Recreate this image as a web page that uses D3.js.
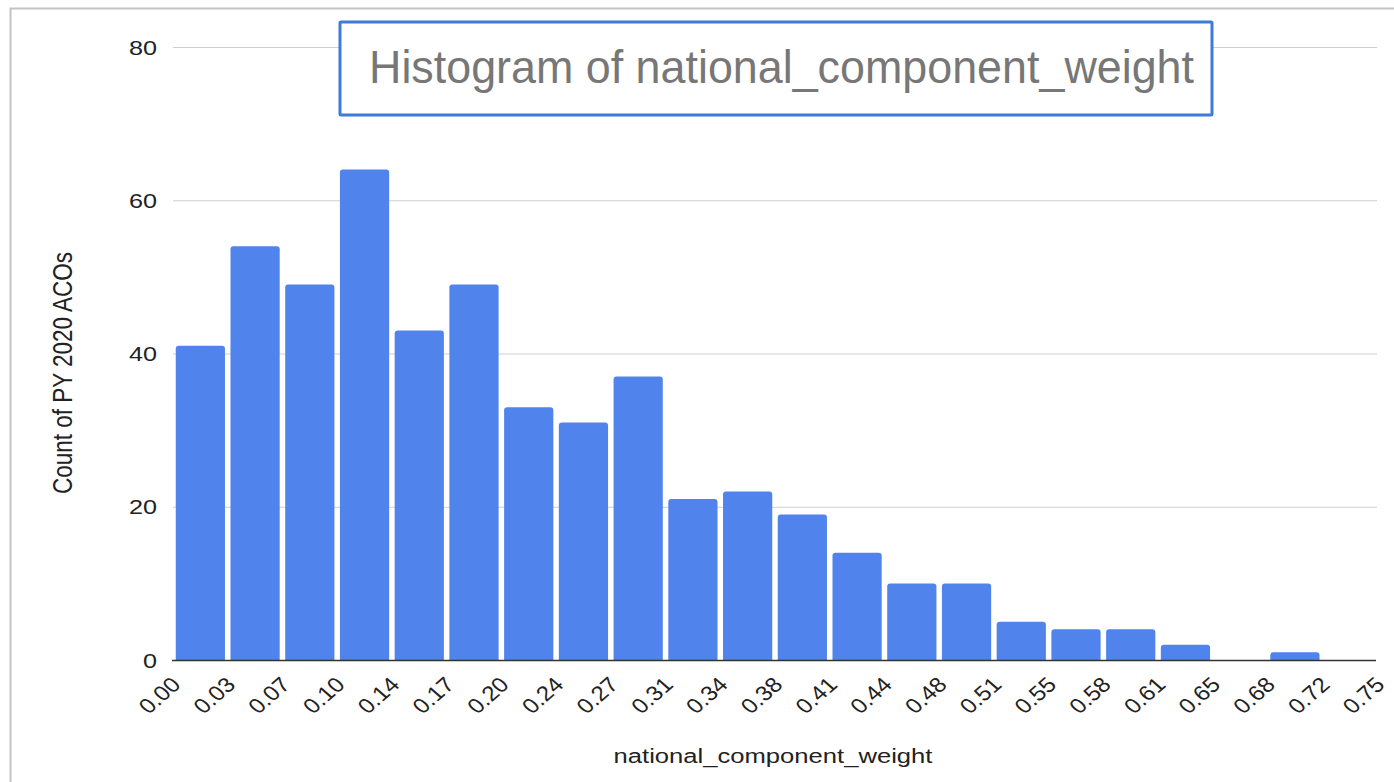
<!DOCTYPE html>
<html>
<head>
<meta charset="utf-8">
<script src="https://cdn.jsdelivr.net/npm/d3@7"></script>
<style>
  html, body { margin: 0; padding: 0; background: #fff; }
  svg { display: block; }
</style>
</head>
<body>
<svg id="chart" width="1394" height="782"></svg>
<script>
const binCounts = [41, 54, 49, 64, 43, 49, 33, 31, 37, 21, 22, 19, 14, 10, 10, 5, 4, 4, 2, 0, 1, 0];
const xTickLabels = ["0.00","0.03","0.07","0.10","0.14","0.17","0.20","0.24","0.27","0.31","0.34","0.38","0.41","0.44","0.48","0.51","0.55","0.58","0.61","0.65","0.68","0.72","0.75"];
const yTicks = [0, 20, 40, 60, 80];
const xMax = 0.75;
const titleText = "Histogram of national_component_weight";
const xTitle = "national_component_weight";
const yTitle = "Count of PY 2020 ACOs";

const svg = d3.select("#chart");
const font = "'Liberation Sans', Arial, sans-serif";
const sx = 1.2; // horizontal stretch of the reference text

// outer border
svg.append("rect").attr("x", 10.5).attr("y", 8.5).attr("width", 1400).attr("height", 800)
  .attr("fill", "none").attr("stroke", "#c4c4c4").attr("stroke-width", 2);

const plotL = 173, plotR = 1377, plotT = 47, plotB = 660;
const nBins = binCounts.length;
const binW = xMax / nBins;
const x = d3.scaleLinear().domain([0, xMax]).range([plotL, plotR]);
const y = d3.scaleLinear().domain([0, 80]).range([plotB, plotT]);

// gridlines
svg.append("g").selectAll("line").data(yTicks.filter(d => d > 0)).join("line")
  .attr("x1", plotL).attr("x2", plotR)
  .attr("y1", d => y(d) + 0.5).attr("y2", d => y(d) + 0.5)
  .attr("stroke", "#cfcfcf").attr("stroke-width", 1);

// y tick labels
svg.append("g").selectAll("text").data(yTicks).join("text")
  .attr("transform", d => `translate(157,${y(d)}) scale(${sx},1)`)
  .attr("dy", "0.36em")
  .attr("text-anchor", "end")
  .attr("font-family", font).attr("font-size", 21).attr("fill", "#222")
  .text(d => d);

// bars
const gap = 5.5, r = 3;
svg.append("g").selectAll("path").data(binCounts.map((c, i) => ({c, i})).filter(d => d.c > 0)).join("path")
  .attr("fill", "#5084ec")
  .attr("d", d => {
    const x0 = x(d.i * binW) + gap / 2, x1 = x((d.i + 1) * binW) - gap / 2;
    const y0 = y(d.c), y1 = y(0);
    return `M${x0},${y1} L${x0},${y0 + r} Q${x0},${y0} ${x0 + r},${y0} L${x1 - r},${y0} Q${x1},${y0} ${x1},${y0 + r} L${x1},${y1} Z`;
  });

// x axis line
svg.append("line").attr("x1", plotL - 1).attr("x2", plotR - 1)
  .attr("y1", plotB + 0.5).attr("y2", plotB + 0.5)
  .attr("stroke", "#333").attr("stroke-width", 1.5);

// x tick labels
svg.append("g").selectAll("text").data(xTickLabels).join("text")
  .attr("transform", (d, i) => `translate(${x(i * binW) + 9},${plotB + 26}) scale(1.15,1) rotate(-45)`)
  .attr("text-anchor", "end")
  .attr("font-family", font).attr("font-size", 21).attr("fill", "#222")
  .text(d => d);

// axis titles
svg.append("text").attr("transform", `translate(773,763) scale(1.22,1)`)
  .attr("text-anchor", "middle")
  .attr("font-family", font).attr("font-size", 21).attr("fill", "#222")
  .text(xTitle);

svg.append("text").attr("transform", `translate(72,373) scale(${sx},1) rotate(-90)`)
  .attr("text-anchor", "middle")
  .attr("font-family", font).attr("font-size", 22.5).attr("fill", "#222")
  .text(yTitle);

// title box
svg.append("rect").attr("x", 340).attr("y", 22).attr("width", 872).attr("height", 93)
  .attr("fill", "#fff").attr("stroke", "#3d7ad9").attr("stroke-width", 3).attr("rx", 1);
svg.append("text").attr("x", 369).attr("y", 83)
  .attr("font-family", font).attr("font-size", 46).attr("fill", "#777")
  .attr("textLength", 825).attr("lengthAdjust", "spacingAndGlyphs")
  .text(titleText);
</script>
</body>
</html>
